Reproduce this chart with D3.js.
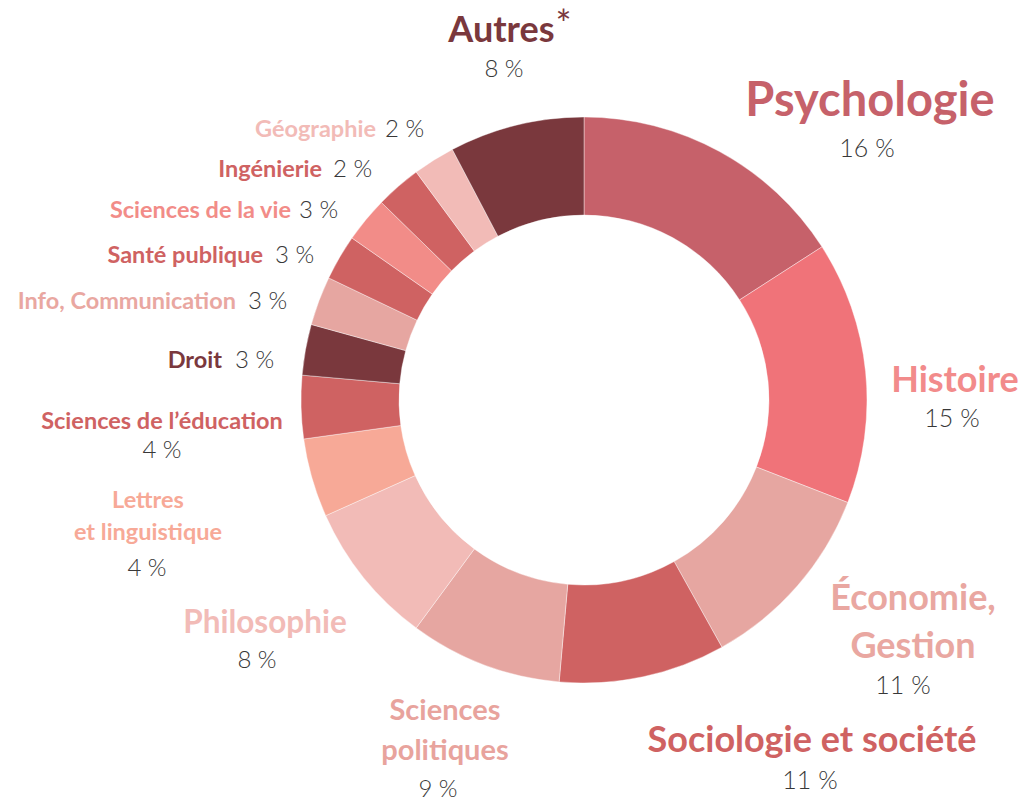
<!DOCTYPE html>
<html>
<head>
<meta charset="utf-8">
<script src="https://cdn.jsdelivr.net/npm/d3@7"></script>
<style>
  html, body { margin: 0; padding: 0; background: #fff; }
  svg { display: block; }
  .name { font-family: Lato, "Noto Sans", sans-serif; font-weight: 700; }
  .pct { font-family: Lato, "Noto Sans", sans-serif; font-weight: 300; fill: #383838; }
</style>
</head>
<body>
<svg id="chart" width="1025" height="801"></svg>
<script>
// disciplines, clockwise from 12 o'clock
const categories = [
  "Psychologie", "Histoire", "Économie, Gestion", "Sociologie et société",
  "Sciences politiques", "Philosophie", "Lettres et linguistique",
  "Sciences de l’éducation", "Droit", "Info, Communication", "Santé publique",
  "Sciences de la vie", "Ingénierie", "Géographie", "Autres"
];
// share of each slice
const shares = [15.9, 15.0, 11.0, 9.5, 8.7, 8.2, 4.5, 3.6, 2.9, 2.8, 2.6, 2.6, 2.6, 2.4, 7.7];
// printed labels
const pctLabels = ["16 %", "15 %", "11 %", "11 %", "9 %", "8 %", "4 %", "4 %", "3 %", "3 %", "3 %", "3 %", "2 %", "2 %", "8 %"];

const sliceColors = [
  "#c6616a", "#f07379", "#e6a6a1", "#cf6262", "#e6a6a1", "#f2bbb7", "#f7a997",
  "#cf6262", "#7a383d", "#e6a6a1", "#cf6262", "#f28c88", "#cf6262", "#f2bbb7", "#7a383d"
];
const nameColors = [
  "#c6616a", "#f28b8b", "#e9a7a1", "#cf6262", "#e8a39d", "#f2bbb7", "#f7a997",
  "#cf6262", "#7a383d", "#e9a7a1", "#cf6262", "#f28c88", "#cf6262", "#f2bbb7", "#7a383d"
];

// hand placed annotations
// stacked: name lines centred on x, percent underneath; inline: name ends at x, percent follows
const labelLayout = [
  { kind: "stack", lines: ["Psychologie"], x: 870, ys: [116], size: 47, px: 867, py: 157, psize: 25 },
  { kind: "stack", lines: ["Histoire"], x: 955, ys: [392], size: 36, px: 952, py: 427, psize: 25 },
  { kind: "stack", lines: ["Économie,", "Gestion"], x: 913, ys: [610, 658], size: 36, px: 903, py: 694, psize: 25 },
  { kind: "stack", lines: ["Sociologie et société"], x: 812, ys: [752], size: 36, px: 810, py: 789, psize: 25 },
  { kind: "stack", lines: ["Sciences", "politiques"], x: 445, ys: [720, 760], size: 29, px: 438, py: 797, psize: 24 },
  { kind: "stack", lines: ["Philosophie"], x: 265, ys: [633], size: 31.5, px: 257, py: 668, psize: 24 },
  { kind: "stack", lines: ["Lettres", "et linguistique"], x: 148, ys: [508, 540], size: 23.5, px: 147, py: 576, psize: 24 },
  { kind: "stack", lines: ["Sciences de l’éducation"], x: 162, ys: [429], size: 23.5, px: 162, py: 458, psize: 24 },
  { kind: "inline", x: 222, y: 368, size: 23.5, px: 235, psize: 24 },
  { kind: "inline", x: 236, y: 309, size: 23.5, px: 248, psize: 24 },
  { kind: "inline", x: 263, y: 263, size: 23.5, px: 275, psize: 24 },
  { kind: "inline", x: 291, y: 218, size: 23.5, px: 299, psize: 24 },
  { kind: "inline", x: 322, y: 177, size: 23.5, px: 333, psize: 24 },
  { kind: "inline", x: 376, y: 137, size: 23.5, px: 385, psize: 24 },
  { kind: "stack", lines: ["Autres"], star: true, x: 510, ys: [42], size: 36, px: 504, py: 77, psize: 24 }
];

const width = 1025, height = 801;
const cx = 584, cy = 400;
const outerR = 283, innerR = 185;

const svg = d3.select("#chart");

const data = categories.map((name, i) => ({ name, value: shares[i], i }));

const pie = d3.pie()
  .sort(null)
  .value(d => d.value);

const arc = d3.arc()
  .innerRadius(innerR)
  .outerRadius(outerR);

svg.append("g")
  .attr("transform", `translate(${cx},${cy})`)
  .selectAll("path")
  .data(pie(data))
  .join("path")
  .attr("d", arc)
  .attr("fill", d => sliceColors[d.data.i])
  .attr("stroke", "#fff")
  .attr("stroke-width", 0.4);

const labels = svg.append("g");

data.forEach((d, i) => {
  const L = labelLayout[i];
  if (L.kind === "inline") {
    labels.append("text")
      .attr("class", "name")
      .attr("x", L.x).attr("y", L.y)
      .attr("text-anchor", "end")
      .attr("font-size", L.size)
      .attr("fill", nameColors[i])
      .text(d.name);
    labels.append("text")
      .attr("class", "pct")
      .attr("x", L.px).attr("y", L.py === undefined ? L.y : L.py)
      .attr("font-size", L.psize)
      .text(pctLabels[i]);
  } else {
    L.lines.forEach((line, k) => {
      const t = labels.append("text")
        .attr("class", "name")
        .attr("x", L.x).attr("y", L.ys[k])
        .attr("text-anchor", "middle")
        .attr("font-size", L.size)
        .attr("fill", nameColors[i])
        .text(line);
      if (L.star) {
        t.append("tspan")
          .attr("font-size", L.size * 1.05)
          .attr("font-weight", 400)
          .attr("dx", 1)
          .attr("dy", -L.size * 0.12)
          .text("*");
      }
    });
    labels.append("text")
      .attr("class", "pct")
      .attr("x", L.px).attr("y", L.py)
      .attr("text-anchor", "middle")
      .attr("font-size", L.psize)
      .text(pctLabels[i]);
  }
});
</script>
</body>
</html>
